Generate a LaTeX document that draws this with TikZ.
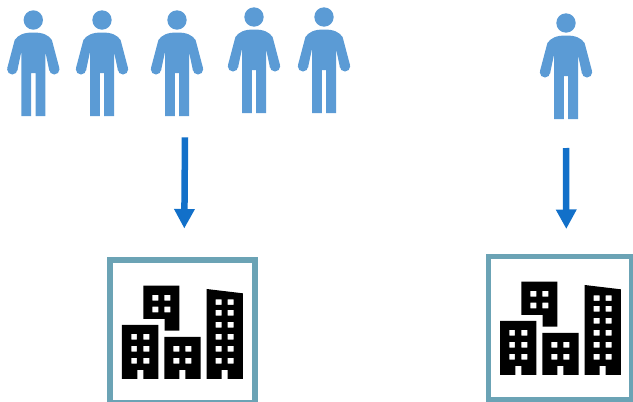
\documentclass[tikz,border=0pt]{standalone}
\usetikzlibrary{arrows.meta}
\definecolor{personblue}{HTML}{5B9BD5}
\definecolor{arrowblue}{HTML}{1270C9}
\definecolor{frameteal}{HTML}{6BA3B5}
\tikzset{
  flow/.style={draw=arrowblue,line width=6.5pt,-{Triangle[length=19.5pt,width=19.5pt]},shorten >=0pt},
  framebox/.style={draw=frameteal,line width=5.4pt,fill=white,inner sep=0pt,outer sep=0pt},
  person/.pic={
    \fill[personblue] (0,0) circle (9.7);
    \fill[personblue] (21,49.3) circle (5.2) (-21,49.3) circle (5.2);
    \fill[personblue] (0,12.5) .. controls (10,12.5) and (15,15) .. (18.6,20)
      -- (26,48) -- (16,50.6) -- (12,31.7) -- (12,96) -- (2.2,96) -- (2.2,53) -- (-2.2,53) -- (-2.2,96) -- (-12,96) -- (-12,31.7)
      -- (-16,50.6) -- (-26,48)
      -- (-18.6,20) .. controls (-15,15) and (-10,12.5) .. (0,12.5) -- cycle;
  },
  towers/.pic={
    \begin{scope}[x=0.3333pt,y=-0.3333pt]
    \fill[black,even odd rule]
      (130,107) -- (238,107) -- (238,242) -- (194,242) -- (194,207) -- (130,207) -- cycle
      (157,135) rectangle (175,152) (193,135) rectangle (211,152)
      (157,170) rectangle (175,187) (193,170) rectangle (211,187)
      (66,225) -- (175,225) -- (175,387) -- (130,387) -- (130,360) -- (112,360) -- (112,387) -- (66,387) -- cycle
      (94,252) rectangle (111,269) (130,252) rectangle (148,269)
      (94,288) rectangle (111,305) (130,288) rectangle (148,305)
      (94,324) rectangle (111,341) (130,324) rectangle (148,341)
      (193,261) -- (302,261) -- (302,387) -- (256,387) -- (256,360) -- (238,360) -- (238,387) -- (193,387) -- cycle
      (220,288) rectangle (238,305) (256,288) rectangle (274,305)
      (220,324) rectangle (238,341) (256,324) rectangle (274,341)
      (320,117) -- (429,130) -- (429,387) -- (383,387) -- (383,360) -- (365,360) -- (365,387) -- (320,387) -- cycle
      (347,148) rectangle (365,165) (383,148) rectangle (401,165)
      (347,180) rectangle (365,197) (383,180) rectangle (401,197)
      (347,216) rectangle (365,233) (383,216) rectangle (401,233)
      (347,252) rectangle (365,269) (383,252) rectangle (401,269)
      (347,288) rectangle (365,305) (383,288) rectangle (401,305)
      (347,324) rectangle (365,341) (383,324) rectangle (401,341);
    \end{scope}
  }
}
\begin{document}
\begin{tikzpicture}[x=1pt,y=-1pt]
\useasboundingbox (0,0) rectangle (633,402);
\clip (0,0) rectangle (633,402);
\pic at (33.3,20) {person};
\pic at (102,20) {person};
\pic at (177,20) {person};
\pic at (254,17) {person};
\pic at (324,17) {person};
\pic at (566,23) {person};
\node[framebox,minimum width=144.8pt,minimum height=143pt] (officeA) at (182.4,331.5) {};
\node[framebox,minimum width=143.2pt,minimum height=143.7pt] (officeB) at (559.9,328.2) {};
\pic at (100,250) {towers};
\pic at (478,246) {towers};
\coordinate (startA) at (185,137.3);
\coordinate (endA) at (184.3,228.5);
\coordinate (startB) at (566,148);
\coordinate (endB) at (566.3,229);
\draw[flow] (startA) -- (endA);
\draw[flow] (startB) -- (endB);
\end{tikzpicture}
\end{document}
